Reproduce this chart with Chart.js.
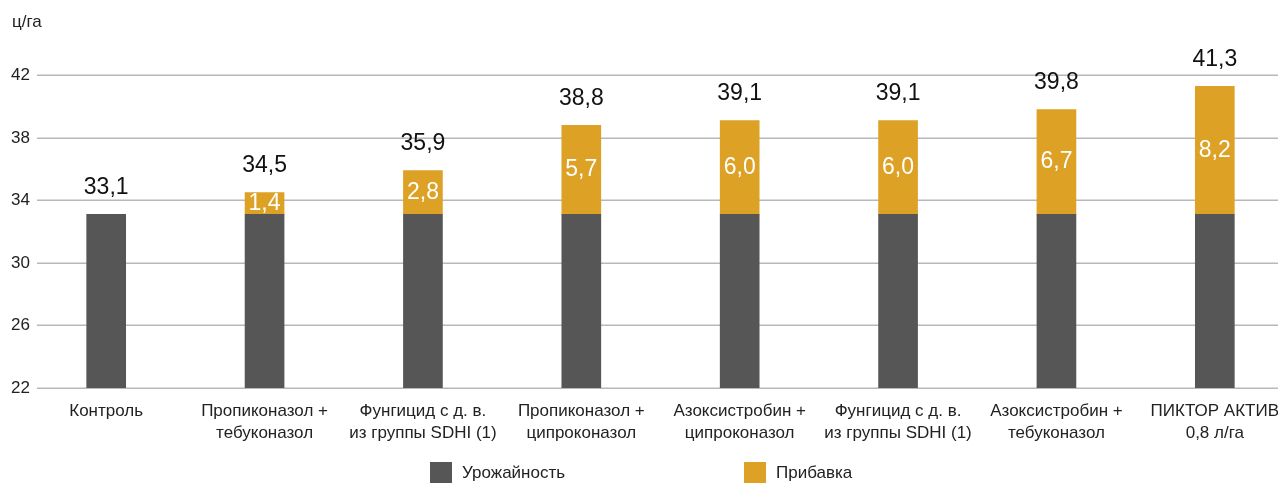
<!DOCTYPE html>
<html>
<head>
<meta charset="utf-8">
<script src="https://cdn.jsdelivr.net/npm/chart.js@4"></script>
<style>
  html, body { margin: 0; background: #fff; overflow: hidden; }
  /* plot in the original runs slightly past the right edge */
  #wrap { width: 1294px; height: 483px; }
</style>
</head>
<body>
<div id="wrap"><canvas id="bars"></canvas></div>
<script>
const categories = [
  'Контроль',
  ['Пропиконазол +', 'тебуконазол'],
  ['Фунгицид с д. в.', 'из группы SDHI (1)'],
  ['Пропиконазол +', 'ципроконазол'],
  ['Азоксистробин +', 'ципроконазол'],
  ['Фунгицид с д. в.', 'из группы SDHI (1)'],
  ['Азоксистробин +', 'тебуконазол'],
  ['ПИКТОР АКТИВ', '0,8 л/га']
]
const yieldValues = [33.1, 33.1, 33.1, 33.1, 33.1, 33.1, 33.1, 33.1]
const gainValues = [0, 1.4, 2.8, 5.7, 6.0, 6.0, 6.7, 8.2]
const yTicks = [22, 26, 30, 34, 38, 42]

const fmt = v => v.toFixed(1).replace('.', ',')
const FONT = 'Liberation Sans, Arial, sans-serif'
const DARK = '#565656'
const GOLD = '#dca125'

// gridlines start a bit right of the tick labels, like the original
const gridLines = {
  id: 'gridLines',
  beforeDatasetsDraw(chart) {
    const ctx = chart.ctx
    const y = chart.scales.y
    ctx.save()
    ctx.strokeStyle = '#b8b8b8'
    ctx.lineWidth = 1.5
    yTicks.forEach(v => {
      const py = Math.round(y.getPixelForValue(v)) + 0.25
      ctx.beginPath()
      ctx.moveTo(37, py)
      ctx.lineTo(chart.width, py)
      ctx.stroke()
    })
    ctx.restore()
  }
}

// totals above bars, gains inside gold part, unit + legend
const valueLabels = {
  id: 'valueLabels',
  afterDatasetsDraw(chart) {
    const ctx = chart.ctx
    const base = chart.getDatasetMeta(0).data
    const gain = chart.getDatasetMeta(1).data
    ctx.save()
    ctx.font = '23px ' + FONT
    ctx.textAlign = 'center'
    ctx.textBaseline = 'middle'
    for (let i = 0; i < categories.length; i++) {
      const total = yieldValues[i] + gainValues[i]
      const top = gainValues[i] > 0 ? gain[i].y : base[i].y
      ctx.fillStyle = '#111'
      ctx.fillText(fmt(total), base[i].x, top - 27)
      if (gainValues[i] > 0) {
        ctx.fillStyle = '#fff'
        ctx.fillText(fmt(gainValues[i]), gain[i].x, (gain[i].y + gain[i].base) / 2)
      }
    }

    ctx.font = '17px ' + FONT
    ctx.textAlign = 'left'
    ctx.fillStyle = '#222'
    ctx.fillText('ц/га', 12, 22)

    // legend
    const items = [
      { x: 430, color: DARK, text: chart.data.datasets[0].label },
      { x: 744, color: GOLD, text: chart.data.datasets[1].label },
    ]
    items.forEach(it => {
      ctx.fillStyle = it.color
      ctx.fillRect(it.x, 462, 22, 21)
      ctx.fillStyle = '#222'
      ctx.fillText(it.text, it.x + 32, 473)
    })
    ctx.restore()
  }
}

const barConfig = {
  type: 'bar',
  data: {
    labels: categories,
    datasets: [
      {
        label: 'Урожайность',
        data: yieldValues,
        backgroundColor: DARK,
        borderWidth: 0,
        barThickness: 39,
      },
      {
        label: 'Прибавка',
        data: gainValues,
        backgroundColor: GOLD,
        borderWidth: 0,
        barThickness: 39,
      },
    ],
  },
  options: {
    responsive: true,
    maintainAspectRatio: false,
    animation: false,
    layout: { padding: { left: 0, right: 0, top: 44, bottom: 0 } },
    plugins: {
      legend: { display: false },
      tooltip: { enabled: false },
    },
    scales: {
      x: {
        stacked: true,
        grid: { display: false, drawTicks: false },
        border: { display: false },
        afterFit: scale => { scale.height = 95 },
        ticks: {
          color: '#222',
          font: { family: FONT, size: 17, lineHeight: 1.3 },
          maxRotation: 0,
          autoSkip: false,
          padding: 12,
        },
      },
      y: {
        stacked: true,
        min: 22,
        max: 44,
        afterBuildTicks: scale => {
          scale.ticks = yTicks.map(v => ({ value: v }))
        },
        afterFit: scale => { scale.width = 27 },
        grid: { display: false, drawTicks: false },
        border: { display: false },
        ticks: {
          mirror: true,
          color: '#222',
          font: { family: FONT, size: 17 },
          padding: -16,
        },
      },
    },
  },
  plugins: [gridLines, valueLabels],
}

const barCtx = document.getElementById('bars')
window.myBars = new Chart(barCtx, barConfig)
</script>
</body>
</html>
